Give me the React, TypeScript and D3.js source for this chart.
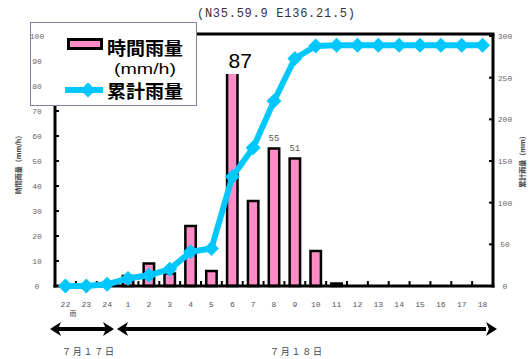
import React from "react";
import * as d3 from "d3";

const categories = ["22","23","24","1","2","3","4","5","6","7","8","9","10","11","12","13","14","15","16","17","18"];
const hourlyRain = [0,0,0,4,9,5,24,6,87,34,55,51,14,1,0,0,0,0,0,0,0];
const cumulativeRain = [0,0,2,9,13,20,41,45,131,166,222,273,288,289,289,289,289,289,289,289,289];
const leftTicks = [0,10,20,30,40,50,60,70,80,90,100];
const rightTicks = [0,50,100,150,200,250,300];
const labeledBars = ["8","9"];

const W = 530, H = 359;
const L = 55, R = 493, T = 36, B = 286;

export default function App() {
  const x = d3.scaleBand().domain(categories).range([L, R]).padding(0);
  const yL = d3.scaleLinear().domain([0, 100]).range([B, T]);
  const yR = d3.scaleLinear().domain([0, 300]).range([B, T]);
  const bw = x.bandwidth() * 0.5;
  const cx = (c: string) => (x(c) as number) + x.bandwidth() / 2;
  const line = d3.line<number>().x((_, i) => cx(categories[i])).y(d => yR(d));
  const diamond = "M0,-7.5L7.5,0L0,7.5L-7.5,0Z";
  const pink = "#ff8cc6";
  const cyan = "#00c8ff";
  const tickFont = "'Liberation Mono', 'DejaVu Sans Mono', monospace";
  const cjk = "'Noto Sans CJK JP', sans-serif";
  const arrowHead = (tipX: number, dir: number, y: number) =>
    `M${tipX},${y}L${tipX - dir * 11},${y - 7}L${tipX - dir * 8},${y}L${tipX - dir * 11},${y + 7}Z`;
  const ay = 329;

  return (
    <svg width={W} height={H} style={{ position: "absolute", left: 0, top: 0, background: "#fff" }}>
      <rect width={W} height={H} fill="#fff" />
      {/* title */}
      <text x={197} y={17} fontFamily={tickFont} fontSize={12} fill="#333" textLength={158} lengthAdjust="spacing">(N35.59.9 E136.21.5)</text>

      {/* bars */}
      {categories.map((c, i) => hourlyRain[i] > 0 ? (
        <rect key={c} x={cx(c) - bw / 2} y={yL(hourlyRain[i])} width={bw} height={B - yL(hourlyRain[i])}
          fill={pink} stroke="#000" strokeWidth={2.5} />
      ) : null)}

      {/* bar value labels */}
      {categories.map((c, i) => labeledBars.includes(c) ? (
        <text key={"l" + c} x={cx(c)} y={yL(hourlyRain[i]) - 8} textAnchor="middle" fontFamily={tickFont} fontSize={9} fill="#555">{hourlyRain[i]}</text>
      ) : null)}
      <rect x={224} y={44} width={40} height={30} fill="#fff" />
      <text x={cx("6") + 8} y={68} textAnchor="middle" fontFamily="'Liberation Sans', Arial, sans-serif" fontSize={21} fill="#000">{hourlyRain[8]}</text>

      {/* axes frame */}
      <line x1={L} x2={L} y1={T - 2} y2={B + 1.5} stroke="#000" strokeWidth={3} />
      <line x1={R} x2={R} y1={T - 2} y2={B + 1.5} stroke="#000" strokeWidth={3} />
      <line x1={L - 1.5} x2={R + 1.5} y1={T - 2} y2={T - 2} stroke="#000" strokeWidth={3} />
      <line x1={L - 1.5} x2={R + 1.5} y1={B} y2={B} stroke="#000" strokeWidth={3} />

      {/* left ticks */}
      {leftTicks.map(t => (
        <g key={"lt" + t}>
          <line x1={L} x2={L + 4} y1={yL(t)} y2={yL(t)} stroke="#000" strokeWidth={2} />
          <text x={37} y={yL(t) + 3} textAnchor="middle" fontFamily={tickFont} fontSize={8} fill="#666">{t}</text>
        </g>
      ))}
      {/* right ticks */}
      {rightTicks.map(t => (
        <g key={"rt" + t}>
          <line x1={R - 4} x2={R} y1={yR(t)} y2={yR(t)} stroke="#000" strokeWidth={2} />
          <text x={505} y={yR(t) + 3} textAnchor="middle" fontFamily={tickFont} fontSize={8} fill="#666">{t}</text>
        </g>
      ))}
      {/* bottom ticks at band boundaries */}
      {categories.slice(1).map(c => (
        <line key={"bt" + c} x1={x(c) as number} x2={x(c) as number} y1={B} y2={B - 5} stroke="#000" strokeWidth={2} />
      ))}
      {categories.map(c => (
        <text key={"xl" + c} x={cx(c)} y={307} textAnchor="middle" fontFamily={tickFont} fontSize={8} fill="#555">{c}</text>
      ))}

      {/* axis titles */}
      <text transform="translate(21,163) rotate(-90)" textAnchor="middle" fontFamily={cjk} fontSize={7} fontWeight="bold" fill="#444">時間雨量（mm/h）</text>
      <text transform="translate(525,160) rotate(-90)" textAnchor="middle" fontFamily={cjk} fontSize={7} fontWeight="bold" fill="#444">累計雨量（mm）</text>

      {/* cumulative line */}
      <path d={line(cumulativeRain) || ""} fill="none" stroke={cyan} strokeWidth={6} strokeLinejoin="round" />
      {categories.map((c, i) => (
        <path key={"m" + c} d={diamond} transform={`translate(${cx(c)},${yR(cumulativeRain[i])})`} fill={cyan} />
      ))}

      {/* bottom date arrows */}
      <text x={73} y={316} textAnchor="middle" fontFamily={cjk} fontSize={7} fill="#444">雨</text>
      <line x1={58} x2={106} y1={ay} y2={ay} stroke="#000" strokeWidth={4} />
      <path d={arrowHead(50, -1, ay)} fill="#000" />
      <path d={arrowHead(114, 1, ay)} fill="#000" />
      <line x1={124} x2={486} y1={ay} y2={ay} stroke="#000" strokeWidth={4} />
      <path d={arrowHead(117, -1, ay)} fill="#000" />
      <path d={arrowHead(497, 1, ay)} fill="#000" />
      <text x={88} y={355} textAnchor="middle" fontFamily={cjk} fontSize={9} fill="#444" textLength={52} lengthAdjust="spacing">７月１７日</text>
      <text x={296} y={355} textAnchor="middle" fontFamily={cjk} fontSize={9} fill="#444" textLength={52} lengthAdjust="spacing">７月１８日</text>

      {/* legend */}
      <rect x={30.5} y={22.5} width={166} height={83} fill="#fff" stroke="#8080a8" strokeWidth={1} />
      {[100, 90, 80].map(t => (
        <text key={"lg" + t} x={37} y={yL(t) + 3} textAnchor="middle" fontFamily={tickFont} fontSize={8} fill="#666">{t}</text>
      ))}
      <rect x={68.5} y={39.5} width={33} height={9} fill={pink} stroke="#000" strokeWidth={3} />
      <text x={107} y={55} fontFamily={cjk} fontSize={18} fontWeight="bold" fill="#000" textLength={76} lengthAdjust="spacingAndGlyphs">時間雨量</text>
      <text x={145} y={74} textAnchor="middle" fontFamily="'Liberation Sans', Arial, sans-serif" fontSize={15} fill="#000" textLength={62} lengthAdjust="spacingAndGlyphs">(mm/h)</text>
      <line x1={65} x2={103} y1={90} y2={90} stroke={cyan} strokeWidth={6} />
      <path d={diamond} transform="translate(88,90)" fill={cyan} />
      <text x={107} y={98} fontFamily={cjk} fontSize={18} fontWeight="bold" fill="#000" textLength={76} lengthAdjust="spacingAndGlyphs">累計雨量</text>
    </svg>
  );
}
